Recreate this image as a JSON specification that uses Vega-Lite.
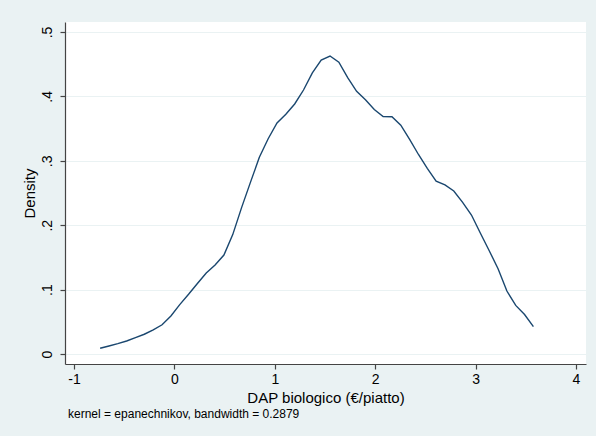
{
  "$schema": "https://vega.github.io/schema/vega-lite/v6.json",
  "width": 521,
  "height": 342,
  "autosize": {"type": "none"},
  "padding": {"left": 65, "top": 22, "right": 10, "bottom": 72},
  "background": "#EAF2F3",
  "config": {
    "font": "Liberation Sans",
    "view": {"fill": "white", "stroke": null}
  },
  "title": {
    "text": "kernel = epanechnikov, bandwidth = 0.2879",
    "orient": "bottom",
    "anchor": "start",
    "frame": "group",
    "fontSize": 12,
    "fontWeight": "normal",
    "color": "#000000",
    "offset": 4,
    "dx": 3
  },
  "data": {
    "values": [
      {"x": -0.740, "density": 0.0089},
      {"x": -0.652, "density": 0.0124},
      {"x": -0.564, "density": 0.0161},
      {"x": -0.476, "density": 0.0202},
      {"x": -0.388, "density": 0.0255},
      {"x": -0.300, "density": 0.0307},
      {"x": -0.211, "density": 0.0376},
      {"x": -0.123, "density": 0.0454},
      {"x": -0.035, "density": 0.0590},
      {"x": 0.053, "density": 0.0767},
      {"x": 0.141, "density": 0.0927},
      {"x": 0.229, "density": 0.1095},
      {"x": 0.317, "density": 0.1258},
      {"x": 0.405, "density": 0.1382},
      {"x": 0.493, "density": 0.1537},
      {"x": 0.581, "density": 0.1854},
      {"x": 0.669, "density": 0.2273},
      {"x": 0.758, "density": 0.2669},
      {"x": 0.846, "density": 0.3054},
      {"x": 0.934, "density": 0.3343},
      {"x": 1.022, "density": 0.3587},
      {"x": 1.110, "density": 0.3722},
      {"x": 1.198, "density": 0.3882},
      {"x": 1.286, "density": 0.4099},
      {"x": 1.374, "density": 0.4365},
      {"x": 1.462, "density": 0.4564},
      {"x": 1.550, "density": 0.4627},
      {"x": 1.638, "density": 0.4530},
      {"x": 1.726, "density": 0.4292},
      {"x": 1.815, "density": 0.4078},
      {"x": 1.903, "density": 0.3947},
      {"x": 1.991, "density": 0.3795},
      {"x": 2.079, "density": 0.3686},
      {"x": 2.167, "density": 0.3685},
      {"x": 2.255, "density": 0.3553},
      {"x": 2.343, "density": 0.3331},
      {"x": 2.431, "density": 0.3098},
      {"x": 2.519, "density": 0.2882},
      {"x": 2.607, "density": 0.2685},
      {"x": 2.695, "density": 0.2627},
      {"x": 2.783, "density": 0.2531},
      {"x": 2.871, "density": 0.2354},
      {"x": 2.959, "density": 0.2158},
      {"x": 3.047, "density": 0.1879},
      {"x": 3.136, "density": 0.1604},
      {"x": 3.224, "density": 0.1323},
      {"x": 3.312, "density": 0.0978},
      {"x": 3.400, "density": 0.0755},
      {"x": 3.488, "density": 0.0613},
      {"x": 3.576, "density": 0.0424}
    ]
  },
  "mark": {"type": "line", "color": "#1a476f", "strokeWidth": 1.4, "interpolate": "linear"},
  "encoding": {
    "x": {
      "field": "x",
      "type": "quantitative",
      "scale": {"domain": [-1.09, 4.1], "nice": false, "zero": false},
      "axis": {
        "values": [-1, 0, 1, 2, 3, 4],
        "title": "DAP biologico (€/piatto)",
        "titleFontSize": 15,
        "titleFontWeight": "normal",
        "titleColor": "#000000",
        "titlePadding": 4,
        "labelFontSize": 14,
        "labelColor": "#000000",
        "labelPadding": 3,
        "labelExpr": "replace(datum.label, '−', '-')",
        "grid": false,
        "domainColor": "#444444",
        "domainWidth": 1.2,
        "tickColor": "#444444",
        "tickSize": 5,
        "tickWidth": 1.2
      }
    },
    "y": {
      "field": "density",
      "type": "quantitative",
      "scale": {"domain": [-0.0155, 0.5155], "nice": false, "zero": false},
      "axis": {
        "values": [0, 0.1, 0.2, 0.3, 0.4, 0.5],
        "title": "Density",
        "titleFontSize": 15,
        "titleFontWeight": "normal",
        "titleColor": "#000000",
        "titlePadding": 3,
        "labelFontSize": 14,
        "labelColor": "#000000",
        "labelAngle": -90,
        "labelAlign": "center",
        "labelBaseline": "bottom",
        "labelPadding": 6,
        "labelExpr": "datum.value == 0 ? '0' : replace(format(datum.value, '.1f'), '0.', '.')",
        "grid": true,
        "gridColor": "#EAF2F3",
        "gridWidth": 1.2,
        "domainColor": "#444444",
        "domainWidth": 1.2,
        "tickColor": "#444444",
        "tickSize": 5,
        "tickWidth": 1.2
      }
    }
  }
}
